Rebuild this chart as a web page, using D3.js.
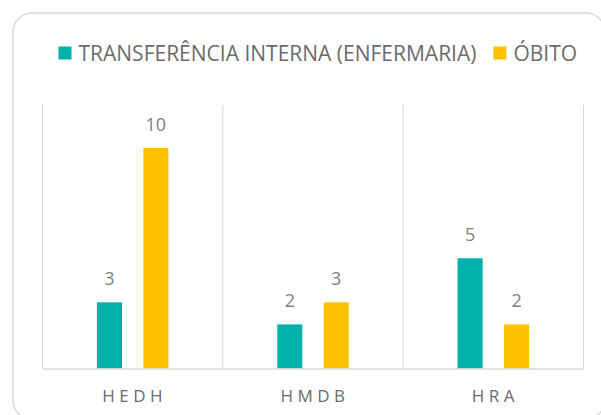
<!DOCTYPE html>
<html>
<head>
<meta charset="utf-8">
<script src="https://cdn.jsdelivr.net/npm/d3@7"></script>
<style>
  body { margin: 0; background: #fff; }
  text { font-family: "Open Sans", sans-serif; }
</style>
</head>
<body>
<svg id="chart" width="601" height="415"></svg>
<script>
// data
var categories = ["HEDH", "HMDB", "HRA"];
var seriesNames = ["TRANSFERÊNCIA INTERNA (ENFERMARIA)", "ÓBITO"];
var transferencia = [3, 2, 5];
var obito = [10, 3, 2];
var colors = ["#00B0AA", "#FFC000"];

var svg = d3.select("#chart");
var width = 601, height = 415;
var plotLeft = 42.5, plotRight = 583.5, plotTop = 105, baseY = 368.5;

// outer frame (runs off the right and bottom edges)
svg.append("rect")
    .attr("x", 13).attr("y", 13)
    .attr("width", 592).attr("height", 406)
    .attr("rx", 19).attr("ry", 19)
    .attr("fill", "#fff")
    .attr("stroke", "#d9d9d9")
    .attr("stroke-width", 1.5);

var rows = categories.map(function(c, i) {
  return { cat: c, values: [transferencia[i], obito[i]] };
});

var x0 = d3.scaleBand()
    .domain(categories)
    .range([plotLeft, plotRight])
    .padding(0);

var x1 = d3.scaleBand()
    .domain(d3.range(seriesNames.length))
    .range([0, 71.5])
    .paddingInner(0.46);

var y = d3.scaleLinear()
    .domain([0, 10])
    .range([baseY, 148]);

// vertical separators
var seps = x0.domain().map(function(c) { return x0(c); }).concat([x0.range()[1]]);
svg.append("g").selectAll("line")
    .data(seps)
    .enter().append("line")
    .attr("x1", function(d) { return d; })
    .attr("x2", function(d) { return d; })
    .attr("y1", plotTop)
    .attr("y2", baseY)
    .attr("stroke", "#d9d9d9")
    .attr("stroke-width", 1);

// bars
var groups = svg.append("g").selectAll("g")
    .data(rows)
    .enter().append("g")
    .attr("transform", function(d) { return "translate(" + (x0(d.cat) + x0.bandwidth() / 2 - 35.75) + ",0)"; });

groups.selectAll("rect")
    .data(function(d) { return d.values; })
    .enter().append("rect")
    .attr("x", function(d, i) { return x1(i); })
    .attr("width", x1.bandwidth())
    .attr("y", function(d) { return y(d); })
    .attr("height", function(d) { return y(0) - y(d); })
    .attr("fill", function(d, i) { return colors[i]; });

groups.selectAll("text")
    .data(function(d) { return d.values; })
    .enter().append("text")
    .attr("x", function(d, i) { return x1(i) + x1.bandwidth() / 2; })
    .attr("y", function(d) { return y(d) - 17; })
    .attr("text-anchor", "middle")
    .attr("font-size", 18)
    .attr("fill", "#808080")
    .text(function(d) { return d; });

// x axis
var xAxis = svg.append("g")
    .attr("transform", "translate(0," + baseY + ")")
    .call(d3.axisBottom(x0).tickSize(0).tickPadding(21));
xAxis.select(".domain").attr("stroke", "#d9d9d9").attr("stroke-width", 1.5);
xAxis.selectAll("text")
    .attr("font-size", 17)
    .attr("font-family", "Open Sans, sans-serif")
    .attr("fill", "#6b6b6b")
    .attr("letter-spacing", 4.5)
    .attr("dx", 2);

// legend
var legend = svg.append("g").attr("transform", "translate(58.5,0)");
var lx = 0;
seriesNames.forEach(function(s, i) {
  legend.append("rect")
      .attr("x", lx).attr("y", 46.5)
      .attr("width", 13).attr("height", 13)
      .attr("fill", colors[i]);
  var t = legend.append("text")
      .attr("x", lx + 20).attr("y", 61)
      .attr("font-size", 21)
      .attr("fill", "#6b6b6b")
      .text(s);
  lx += 20 + t.node().getComputedTextLength() + 17;
});
</script>
</body>
</html>
